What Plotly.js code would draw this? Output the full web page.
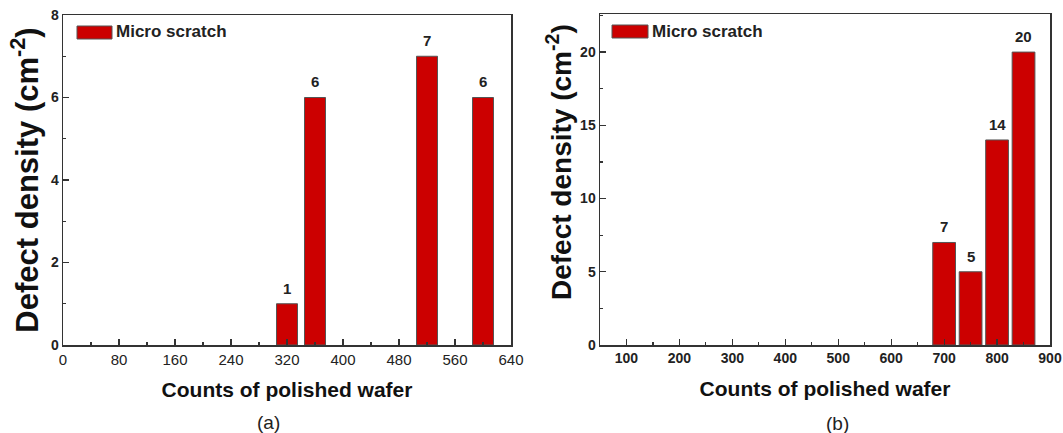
<!DOCTYPE html>
<html>
<head>
<meta charset="utf-8">
<script src="https://cdn.plot.ly/plotly-3.0.1.min.js"></script>
<style>html,body{margin:0;padding:0;background:#fff;}#chart{width:1063px;height:433px;}</style>
</head>
<body>
<div id="chart"></div>
<script>
// ---- data ----
const countsA = [320, 360, 520, 600];
const densityA = [1, 6, 7, 6];
const countsB = [700, 750, 800, 850];
const densityB = [7, 5, 14, 20];
const seriesName = 'Micro scratch';
const xTitle = 'Counts of polished wafer';
const yTitle = 'Defect density (cm<sup>-2</sup>)';
const panelLabels = ['(a)', '(b)'];

const FONT = '"Liberation Sans", Arial, sans-serif';
const RED = '#CC0000';
const AXC = '#333333';

const barStyle = {color: RED, line: {color: '#555555', width: 1}};

const traces = [
  {type: 'bar', x: countsA, y: densityA, width: 30, marker: barStyle, name: seriesName,
   xaxis: 'x', yaxis: 'y', showlegend: false, hoverinfo: 'x+y'},
  {type: 'bar', x: countsB, y: densityB, width: 43, marker: barStyle, name: seriesName,
   xaxis: 'x2', yaxis: 'y2', showlegend: false, hoverinfo: 'x+y'}
];

function axisBase(extra) {
  return Object.assign({
    showline: true, mirror: true, linecolor: AXC, linewidth: 1.5,
    ticks: 'inside', ticklen: 6, tickwidth: 1.2, tickcolor: AXC,
    showgrid: false, zeroline: false, fixedrange: true,
    tickfont: {family: FONT, size: 14, color: '#222', weight: 'bold'}
  }, extra);
}

const W = 1063, H = 433;
const annotations = [];
// bar value labels
function addLabels(xs, ys, xref, yref) {
  xs.forEach((x, i) => annotations.push({
    x: x, y: ys[i], xref: xref, yref: yref, text: String(ys[i]),
    showarrow: false, yanchor: 'bottom', yshift: 5,
    font: {family: FONT, size: 15, color: '#222', weight: 'bold'}
  }));
}
addLabels(countsA, densityA, 'x', 'y');
addLabels(countsB, densityB, 'x2', 'y2');

// panel labels
annotations.push({xref: 'paper', yref: 'paper', x: 268 / W, y: 1 - 422 / H, text: panelLabels[0],
  showarrow: false, xanchor: 'center', yanchor: 'middle', font: {family: FONT, size: 19, color: '#222'}});
annotations.push({xref: 'paper', yref: 'paper', x: 837 / W, y: 1 - 423 / H, text: panelLabels[1],
  showarrow: false, xanchor: 'center', yanchor: 'middle', font: {family: FONT, size: 19, color: '#222'}});

// right panel y title (sits above the axis centre in the reference)
annotations.push({xref: 'paper', yref: 'paper', x: 559 / W, y: 1 - 162 / H, text: yTitle,
  textangle: -90, showarrow: false, xanchor: 'center', yanchor: 'middle',
  font: {family: FONT, size: 28, color: '#111', weight: 'bold'}});

// legend (swatch + text) for each panel
const shapes = [];
function addLegend(x0, x1, y0, y1, tx, ty) {
  shapes.push({type: 'rect', xref: 'paper', yref: 'paper', x0: x0 / W, x1: x1 / W, y0: 1 - y1 / H, y1: 1 - y0 / H,
    fillcolor: RED, line: {color: '#555', width: 1}});
  annotations.push({xref: 'paper', yref: 'paper', x: tx / W, y: 1 - ty / H, text: seriesName,
    showarrow: false, xanchor: 'left', yanchor: 'middle',
    font: {family: FONT, size: 17, color: '#222', weight: 'bold'}});
}
addLegend(77, 112, 26, 39, 114, 32);
addLegend(612, 648, 25, 38, 650, 31.5);

const layout = {
  width: W, height: H,
  margin: {l: 0, r: 0, t: 0, b: 0},
  paper_bgcolor: '#fff', plot_bgcolor: '#fff',
  showlegend: false,
  bargap: 0,
  xaxis: axisBase({domain: [63 / W, 511 / W], range: [0, 640], tick0: 0, dtick: 80,
    minor: {ticks: 'inside', ticklen: 3, tickcolor: AXC, dtick: 40, tick0: 0},
    tickfont: {family: FONT, size: 15, color: '#222'},
    title: {text: xTitle, standoff: 16, font: {family: FONT, size: 21, color: '#111', weight: 'bold'}},
    anchor: 'y'}),
  yaxis: axisBase({domain: [1 - 345 / H, 1 - 15 / H], range: [0, 8], tick0: 0, dtick: 2,
    minor: {ticks: 'inside', ticklen: 3, tickcolor: AXC, dtick: 1, tick0: 0},
    title: {text: yTitle, standoff: 3, font: {family: FONT, size: 31, color: '#111', weight: 'bold'}},
    anchor: 'x'}),
  xaxis2: axisBase({domain: [600 / W, 1050 / W], range: [50, 900], tick0: 100, dtick: 100,
    minor: {ticks: 'inside', ticklen: 3, tickcolor: AXC, dtick: 50, tick0: 50},
    title: {text: xTitle, standoff: 16, font: {family: FONT, size: 21, color: '#111', weight: 'bold'}},
    anchor: 'y2'}),
  yaxis2: axisBase({domain: [1 - 345 / H, 1 - 14 / H], range: [0, 22.6], tick0: 0, dtick: 5,
    minor: {ticks: 'inside', ticklen: 3, tickcolor: AXC, dtick: 2.5, tick0: 0},
    anchor: 'x2'}),
  annotations: annotations,
  shapes: shapes
};

Plotly.newPlot('chart', traces, layout, {staticPlot: true, displayModeBar: false});
</script>
</body>
</html>
